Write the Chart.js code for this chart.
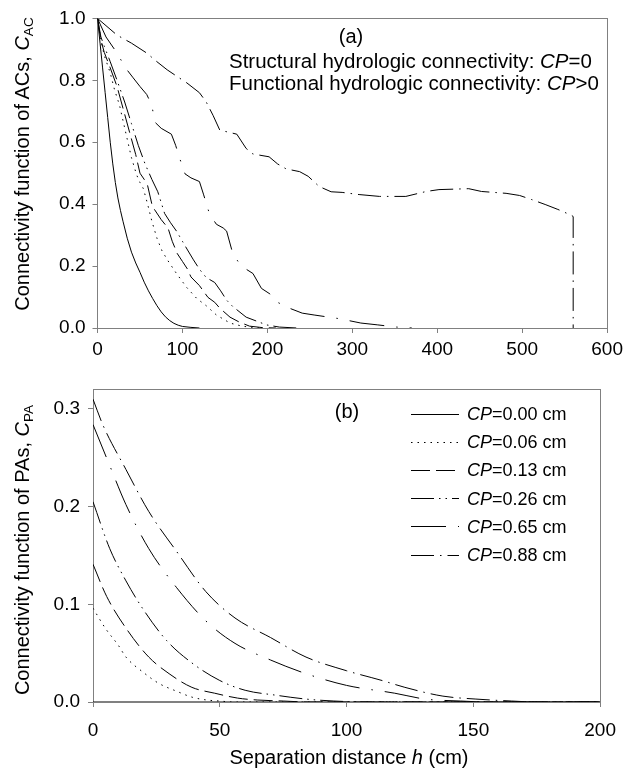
<!DOCTYPE html>
<html><head><meta charset="utf-8">
<script src="https://cdn.jsdelivr.net/npm/chart.js@4.4.0/dist/chart.umd.min.js"></script>
<style>
html,body{margin:0;padding:0;background:#fff;}
body{width:628px;height:778px;position:relative;overflow:hidden;font-family:"Liberation Sans",Arial,sans-serif;color:#000;}
canvas{position:absolute;left:0;}
#c1{top:0;}
#c2{top:370px;}
.t{position:absolute;white-space:nowrap;line-height:1;}
.c{transform:translate(-50%,-50%);}
.rot{transform:translate(-50%,-50%) rotate(-90deg);}
.sub{font-size:0.68em;position:relative;top:0.28em;}
</style>
</head><body>
<canvas id="c1" width="628" height="360"></canvas>
<canvas id="c2" width="628" height="408"></canvas>

<div class="t rot" style="left:22px;top:164px;font-size:20px;">Connectivity function of ACs, <i>C</i><span class="sub">AC</span></div>
<div class="t rot" style="left:22px;top:550px;font-size:20px;">Connectivity function of PAs, <i>C</i><span class="sub">PA</span></div>
<div class="t c" style="left:349px;top:757px;font-size:20px;">Separation distance <i>h</i> (cm)</div>
<div class="t c" style="left:351px;top:36px;font-size:20px;">(a)</div>
<div class="t" style="left:229px;top:51px;font-size:20.5px;">Structural hydrologic connectivity: <i>CP</i>=0</div>
<div class="t" style="left:229px;top:73px;font-size:20.5px;">Functional hydrologic connectivity: <i>CP</i>&gt;0</div>
<div class="t c" style="left:347px;top:411px;font-size:20px;">(b)</div>
<div id="legend"></div>

<script>
// ---------- data: panel (a) connectivity of ACs ----------
const cpLabels = ['0.00', '0.06', '0.13', '0.26', '0.65', '0.88'];

const hA000 = [0,3,6,9,12,15,18,21,24,27,30,35,40,45,50,55,60,65,70,75,80,85,90,95,100,110,120];
const cA000 = [1,0.92,0.84,0.76,0.68,0.60,0.53,0.47,0.42,0.38,0.345,0.29,0.245,0.21,0.18,0.148,0.12,0.095,0.072,0.052,0.036,0.024,0.015,0.009,0.005,0.002,0];

const hA006 = [0,4,8,15,20,26,30,35,40,46,50,54,59,64,70,76,83,93,105,117,128,140,156,170,185,195];
const cA006 = [1,0.93,0.88,0.824,0.77,0.719,0.67,0.61,0.55,0.495,0.47,0.45,0.40,0.345,0.29,0.249,0.217,0.176,0.131,0.095,0.072,0.042,0.016,0.006,0.001,0];

const hA013 = [0,4,8,15,23,30,38,45,50,55,59,64,67,75,83,88,94,100,106,110,120,130,138,144,156,167,179,195,210];
const cA013 = [1,0.93,0.89,0.84,0.78,0.71,0.63,0.56,0.50,0.48,0.46,0.40,0.383,0.35,0.323,0.28,0.24,0.215,0.19,0.165,0.137,0.099,0.083,0.064,0.035,0.019,0.006,0.001,0];

const hA026 = [0,4,8,15,23,32,40,48,56,64,71,79,86,93,100,106,113,120,128,138,145,152,159,175,199,214,235];
const cA026 = [1,0.94,0.91,0.86,0.80,0.73,0.66,0.59,0.53,0.48,0.44,0.37,0.34,0.313,0.28,0.252,0.22,0.19,0.163,0.147,0.12,0.09,0.07,0.035,0.01,0.003,0];

const hA065 = [0,10,23,33,42,50,58,64,67.5,75,87,92,97,103,110,120,125,132,140,148,152,159,167,175,183,193,203,212,225,241,255,270,285,310,330,352,370];
const cA065 = [1,0.94,0.888,0.84,0.808,0.78,0.754,0.719,0.665,0.645,0.626,0.59,0.546,0.498,0.485,0.473,0.43,0.367,0.335,0.323,0.313,0.243,0.208,0.19,0.176,0.128,0.11,0.083,0.065,0.048,0.042,0.036,0.03,0.016,0.01,0.003,0];

const hA088 = [0,23,40,58,70,82,95,105,120,128,136,144,155,164,175,183,202,212,222,238,248,261,275,288,308,332,363,387,402,437,452,481,497,511,527,542,558,560,560];
const cA088 = [1,0.946,0.92,0.888,0.86,0.834,0.81,0.792,0.76,0.73,0.687,0.639,0.632,0.626,0.58,0.562,0.553,0.53,0.514,0.505,0.49,0.457,0.44,0.438,0.431,0.425,0.425,0.441,0.447,0.45,0.441,0.435,0.428,0.415,0.399,0.383,0.364,0.36,0];

// ---------- data: panel (b) connectivity of PAs ----------
const hB000 = [0,200];
const cB000 = [0,0];

const hB006 = [0,5,10,13,20,26,33,39,45,50,55,200];
const cB006 = [0.096,0.075,0.058,0.046,0.03,0.019,0.011,0.005,0.002,0.001,0,0];

const hB013 = [0,5.4,13.7,22,30,39,48,57,65,75,85,200];
const cB013 = [0.141,0.108,0.073,0.046,0.029,0.015,0.009,0.004,0.002,0.001,0,0];

const hB026 = [0,6.6,13,19.5,29,39,50,60,72,84,95,110,200];
const cB026 = [0.205,0.157,0.124,0.096,0.063,0.040,0.022,0.012,0.007,0.003,0.001,0,0];

const hB065 = [0,6.6,13,22,33,44.5,56,70,84,100,119,131,145,155,200];
const cB065 = [0.284,0.242,0.202,0.157,0.117,0.083,0.06,0.043,0.029,0.017,0.009,0.003,0.001,0,0];

const hB088 = [0,4,13,22,33,44.5,56,70,84,100,114,123,138,151,165,175,200];
const cB088 = [0.31,0.283,0.238,0.195,0.154,0.113,0.086,0.066,0.046,0.032,0.022,0.015,0.006,0.003,0.001,0,0];

// ---------- ticks ----------
const xTicksA = [0,100,200,300,400,500,600];
const yTicksA = [0,0.2,0.4,0.6,0.8,1.0];
const xTicksB = [0,50,100,150,200];
const yTicksB = [0,0.1,0.2,0.3];

// ---------- styles ----------
const dashStyles = [[], [1.5,5], [19,6], [23,5,1.5,5,1.5,5], [35,12,1.5,12], [23,6,1.5,6]];

const seriesA = [[hA000,cA000],[hA006,cA006],[hA013,cA013],[hA026,cA026],[hA065,cA065],[hA088,cA088]];
const seriesB = [[hB000,cB000],[hB006,cB006],[hB013,cB013],[hB026,cB026],[hB065,cB065],[hB088,cB088]];

Chart.defaults.font.family = "'Liberation Sans', Arial, sans-serif";
Chart.defaults.color = '#000';

function pts(h, c){ return h.map((v,i)=>({x:v, y:c[i]})); }
function makeDatasets(series, smooth){
  return series.map((s,i)=>({
    label: 'CP=' + cpLabels[i] + ' cm',
    data: pts(s[0], s[1]),
    borderColor: '#000',
    borderWidth: 1,
    borderDash: dashStyles[i],
    borderCapStyle: 'butt',
    pointRadius: 0,
    fill: false,
    tension: 0,
    cubicInterpolationMode: smooth ? 'monotone' : 'default'
  }));
}
const AXIS = '#808080';
function setTicks(list){ return (scale)=>{ scale.ticks = list.map(v=>({value:v})); }; }

function makeChart(id, series, smooth, cfg){
  return new Chart(document.getElementById(id), {
    type: 'line',
    data: { datasets: makeDatasets(series, smooth) },
    options: {
      responsive: false, animation: false, events: [],
      layout: { padding: cfg.padding },
      plugins: { legend: { display: false }, tooltip: { enabled: false } },
      scales: {
        x: {
          type: 'linear', position: 'bottom', min: cfg.xmin, max: cfg.xmax,
          afterBuildTicks: setTicks(cfg.xticks),
          ticks: { font: { size: 19 }, color: '#000', padding: cfg.xpad, maxRotation: 0, autoSkip: false },
          grid: { display: true, drawOnChartArea: false, drawTicks: true, tickLength: 5, color: AXIS },
          border: { display: true, color: AXIS, width: 1 },
          afterFit: (s)=>{ s.height = cfg.xh; }
        },
        xTop: {
          type: 'linear', position: 'top', min: cfg.xmin, max: cfg.xmax,
          ticks: { display: false }, grid: { display: false, drawTicks: false },
          border: { display: cfg.topBorder, color: AXIS, width: 1 },
          afterFit: (s)=>{ s.height = 0; }
        },
        y: {
          type: 'linear', position: 'left', min: cfg.ymin, max: cfg.ymax,
          afterBuildTicks: setTicks(cfg.yticks),
          ticks: { font: { size: 19 }, color: '#000', padding: cfg.ypad, callback: (v)=>Number(v).toFixed(1) },
          grid: { display: true, drawOnChartArea: false, drawTicks: true, tickLength: 5, color: AXIS },
          border: { display: true, color: AXIS, width: 1 },
          afterFit: (s)=>{ s.width = cfg.yw; }
        },
        yRight: {
          type: 'linear', position: 'right', min: cfg.ymin, max: cfg.ymax,
          ticks: { display: false }, grid: { display: false, drawTicks: false },
          border: { display: true, color: AXIS, width: 1 },
          afterFit: (s)=>{ s.width = 0; }
        }
      }
    }
  });
}

makeChart('c1', seriesA, false, {
  padding: { top: 15, right: 19, left: 0, bottom: 0 },
  xmin: 0, xmax: 600, ymin: 0, ymax: 1, xticks: xTicksA, yticks: yTicksA,
  xh: 32, yw: 97.5, xpad: 5, ypad: 7, topBorder: true
});
makeChart('c2', seriesB, true, {
  padding: { top: 16, right: 23, left: 0, bottom: 0 },
  xmin: 0, xmax: 200, ymin: 0, ymax: 0.32, xticks: xTicksB, yticks: yTicksB,
  xh: 76, yw: 93, xpad: 12, ypad: 8, topBorder: true
});

// ---------- legend (panel b) ----------
const leg = document.getElementById('legend');
cpLabels.forEach((lab,i)=>{
  const y = 414 + 28.2*i;
  const svg = document.createElementNS('http://www.w3.org/2000/svg','svg');
  svg.setAttribute('width','48'); svg.setAttribute('height','3');
  svg.style.position='absolute'; svg.style.left='411px'; svg.style.top=(y-1.5)+'px';
  const ln = document.createElementNS('http://www.w3.org/2000/svg','line');
  ln.setAttribute('x1','0'); ln.setAttribute('x2','48'); ln.setAttribute('y1','1.5'); ln.setAttribute('y2','1.5');
  ln.setAttribute('stroke','#000'); ln.setAttribute('stroke-width','1');
  if (dashStyles[i].length) ln.setAttribute('stroke-dasharray', dashStyles[i].join(' '));
  svg.appendChild(ln); leg.appendChild(svg);
  const d = document.createElement('div');
  d.className='t'; d.style.left='467px'; d.style.top=(y-9)+'px'; d.style.fontSize='18px';
  d.innerHTML = '<i>CP</i>=' + lab + ' cm';
  leg.appendChild(d);
});
</script>
</body></html>
